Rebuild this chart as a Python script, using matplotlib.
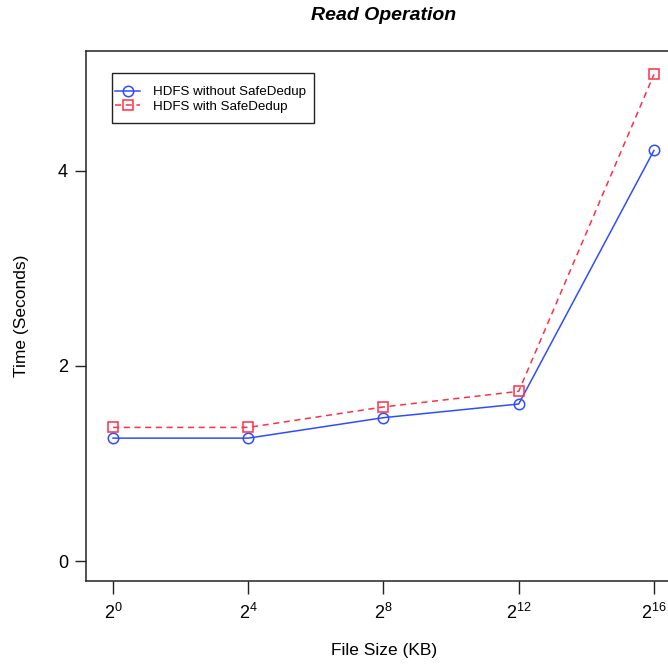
import matplotlib
matplotlib.use("Agg")
import matplotlib.pyplot as plt
from matplotlib.patches import Rectangle

plt.rcParams["font.family"] = ["Liberation Sans", "DejaVu Sans"]
plt.rcParams["mathtext.fontset"] = "custom"
plt.rcParams["mathtext.rm"] = "Liberation Sans"
plt.rcParams["mathtext.it"] = "Liberation Sans:italic"

exponents = [0, 4, 8, 12, 16]
tick_labels = [r"$2^{0}$", r"$2^{4}$", r"$2^{8}$", r"$2^{12}$", r"$2^{16}$"]
without_dedup = [1.26, 1.26, 1.47, 1.61, 4.21]
with_dedup = [1.37, 1.37, 1.58, 1.74, 4.99]

W, H = 668, 666
fig = plt.figure(figsize=(W / 100, H / 100), dpi=100)

# plot region in pixels (right edge runs past the image, as in the original)
left, right, top, bottom = 86, 682, 51, 581
ax = fig.add_axes([left / W, 1 - bottom / H, (right - left) / W, (bottom - top) / H])

ax.plot(exponents, without_dedup, color="#2f4dff", lw=1.1, marker="o",
        ms=7.5, mfc="none", mew=1.1, label="HDFS without SafeDedup")
ax.plot(exponents, with_dedup, color="#ff2f45", lw=1.1, ls=(0, (4, 3)),
        marker="s", ms=6.5, mfc="none", mew=1.1, label="HDFS with SafeDedup")

ax.set_xlim(-0.8, 16.83)
ax.set_ylim(-0.205, 5.23)

ax.set_xticks(exponents)
ax.set_xticklabels(tick_labels, fontsize=13)
ax.set_yticks([0, 2, 4])
ax.set_yticklabels(["0", "2", "4"], fontsize=13)
ax.tick_params(axis="x", length=9, width=1, pad=7, color="#222222")
ax.tick_params(axis="y", length=8, width=1, pad=5, color="#222222")

for s in ax.spines.values():
    s.set_linewidth(1.1)
    s.set_color("#222222")

ax.set_xlabel("File Size (KB)", fontsize=12.5, labelpad=14)
ax.set_ylabel("Time (Seconds)", fontsize=12.5, labelpad=21)
ax.set_title("Read Operation", fontsize=14, fontweight="bold", style="italic", pad=22)

# R-style legend: frame drawn separately, tight handle at the left edge
leg = ax.legend(loc="upper left", bbox_to_anchor=(115 / W, 1 - 86 / H),
                bbox_transform=fig.transFigure, fontsize=9.6, frameon=False,
                handlelength=1.9, borderpad=0, labelspacing=0.15,
                handletextpad=0.95, borderaxespad=0)
fig.patches.append(Rectangle((112 / W, 1 - 123 / H), 202 / W, 50 / H,
                             transform=fig.transFigure, fill=False,
                             edgecolor="#222222", lw=1.0))

fig.savefig("out.png", dpi=100)
